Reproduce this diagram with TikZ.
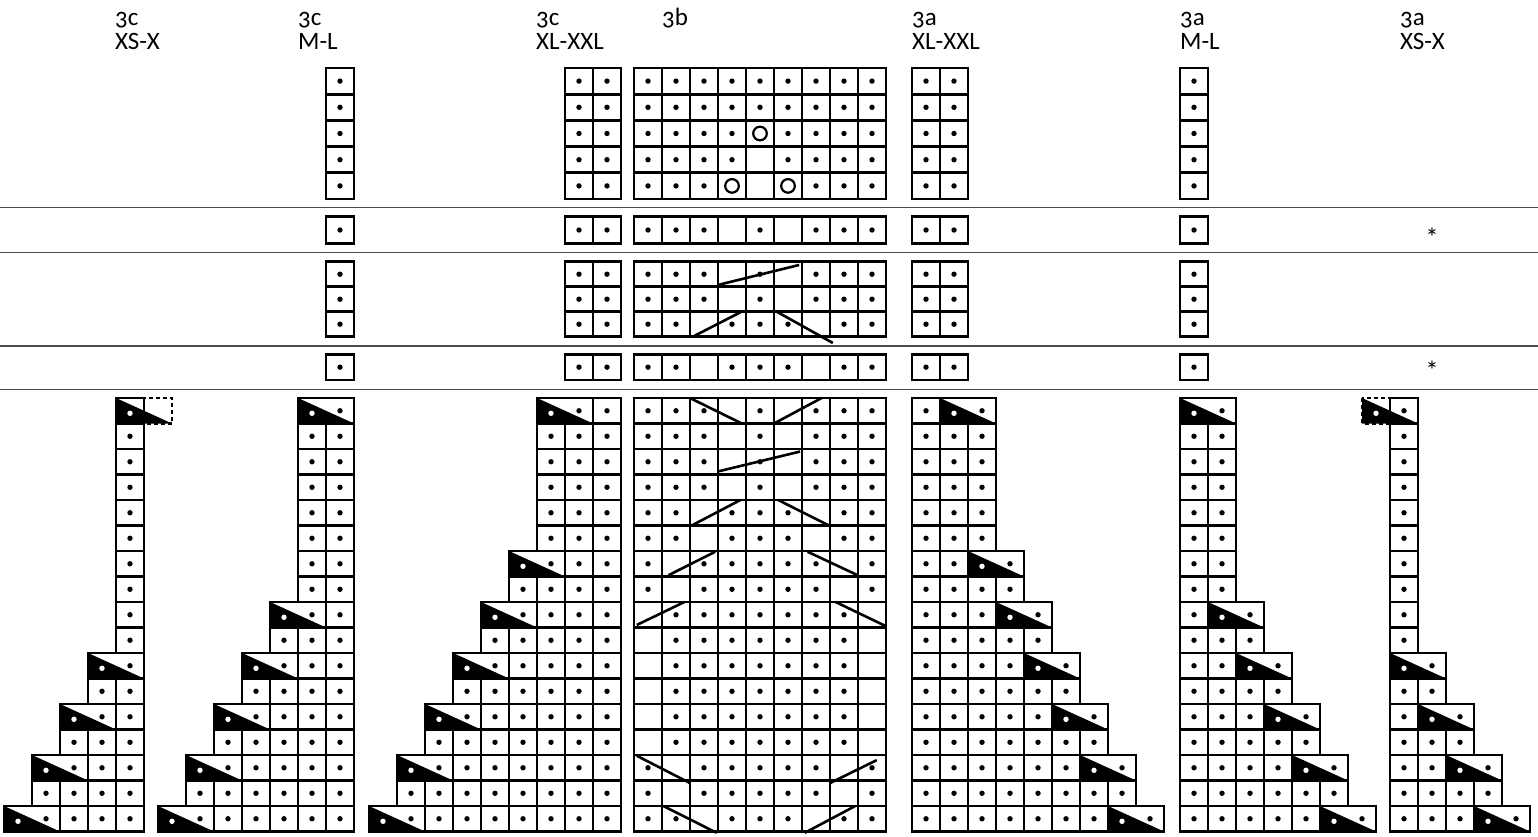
\documentclass[tikz,border=0pt]{standalone}
\usepackage{fontspec}
\setmainfont{Carlito}[Numbers=OldStyle]

\tikzset{
  cellbox/.style={draw=black,line width=2.8pt},
  dashbox/.style={draw=black,line width=2.2pt,dash pattern=on 4pt off 3pt},
  cableline/.style={draw=black,line width=2.6pt},
  sepline/.style={draw=black!70,line width=1.4pt},
  chartlabel/.style={anchor=base west,inner sep=0pt,font=\fontsize{25}{30}\selectfont},
  starmark/.style={inner sep=0pt,font=\fontsize{26}{26}\selectfont},
}

% one stitch with a dot, one empty stitch, and the two-stitch decrease
\newcommand{\pcell}[2]{\draw[cellbox] (#1,#2) rectangle ++(1,1);
  \fill (#1+0.5,#2+0.5) circle (2.7pt);}
\newcommand{\ecell}[2]{\draw[cellbox] (#1,#2) rectangle ++(1,1);}
\newcommand{\dcell}[2]{\fill (#1,#2) -- (#1,#2+1) -- (#1+2,#2+1) -- cycle;
  \draw[cellbox] (#1,#2) rectangle ++(2,1);
  \fill[white] (#1+0.5,#2+0.6) circle (2.7pt);
  \fill (#1+1.5,#2+0.5) circle (2.7pt);}

% 3c: steps to the left; #1 x, #2 last column, #3 narrowest left column, #4 first row
\newcommand{\leftchart}[4]{%
  \begin{scope}[shift={(#1,398)},x=28pt,y=-25.5pt]
    \foreach \r in {#4,...,16}{
      \pgfmathtruncatemacro{\lc}{min(div(17-\r,2),#3)}
      \pgfmathtruncatemacro{\istri}{(\r==0)||((mod(\r,2)==0)&&(div(17-\r,2)<#3))}
      \foreach \c in {0,...,#2}{
        \pgfmathtruncatemacro{\kind}{(\c<\lc) ? 0 : (((\istri==1)&&(\c==\lc)) ? 2 : (((\istri==1)&&(\c==\lc+1)) ? 0 : 1))}
        \ifcase\kind\relax\or\pcell{\c}{\r}\or\dcell{\c}{\r}\fi
      }
    }
  \end{scope}}

% 3a: steps to the right; #1 x, #2 last column, #3 narrowest right column, #4 first row
\newcommand{\rightchart}[4]{%
  \begin{scope}[shift={(#1,398)},x=28pt,y=-25.5pt]
    \foreach \r in {#4,...,16}{
      \pgfmathtruncatemacro{\rc}{max(#2-div(17-\r,2),#3)}
      \pgfmathtruncatemacro{\istri}{(\r==0)||((mod(\r,2)==0)&&(#2-div(17-\r,2)>#3))}
      \foreach \c in {0,...,#2}{
        \pgfmathtruncatemacro{\kind}{(\c>\rc) ? 0 : (((\istri==1)&&(\c==\rc-1)) ? 2 : (((\istri==1)&&(\c==\rc)) ? 0 : 1))}
        \ifcase\kind\relax\or\pcell{\c}{\r}\or\dcell{\c}{\r}\fi
      }
    }
  \end{scope}}

% 3b: #1 y, #2 row height, #3 rows r/empty/empty/empty, #4 extra drawing
\newcommand{\cablerows}[4]{%
  \begin{scope}[shift={(634,#1)},x=28pt,y=-#2pt]
    \foreach \r/\ea/\eb/\ec in {#3}{
      \foreach \c in {0,...,8}{
        \pgfmathtruncatemacro{\kind}{(\c==\ea)||(\c==\eb)||(\c==\ec)}
        \ifnum\kind=1 \ecell{\c}{\r}\else\pcell{\c}{\r}\fi
      }
    }
    #4
  \end{scope}}

% narrow columns of the side charts in the upper rows
\newcommand{\sidecols}[3]{%
  \foreach \sx in {326,565,593,912,940,1180}{
    \begin{scope}[shift={(\sx,#1)},x=28pt,y=-#2pt]
      \foreach \r in {0,...,#3}{\pcell{0}{\r}}
    \end{scope}}}

\begin{document}
\begin{tikzpicture}[x=1pt,y=-1pt]
  \useasboundingbox (0,0) rectangle (1538,836);

  % titles
  \node[chartlabel] (t3cxs) at (115,25) {3c};
  \node[chartlabel] (s3cxs) at (115,49) {XS-X};
  \node[chartlabel] (t3cml) at (298,25) {3c};
  \node[chartlabel] (s3cml) at (298,49) {M-L};
  \node[chartlabel] (t3cxl) at (536,25) {3c};
  \node[chartlabel] (s3cxl) at (536,49) {XL-XXL};
  \node[chartlabel] (t3b) at (662,25) {3b};
  \node[chartlabel] (t3axl) at (912,25) {3a};
  \node[chartlabel] (s3axl) at (912,49) {XL-XXL};
  \node[chartlabel] (t3aml) at (1180,25) {3a};
  \node[chartlabel] (s3aml) at (1180,49) {M-L};
  \node[chartlabel] (t3axs) at (1400,25) {3a};
  \node[chartlabel] (s3axs) at (1400,49) {XS-X};

  % separators
  \foreach \sy in {207.5,252.5,346,389.5}
    \draw[sepline] (0,\sy) -- (1538,\sy);

  % upper rows
  \cablerows{68}{26.2}{0/9/9/9,1/9/9/9,2/4/9/9,3/4/9/9,4/3/4/5}{
    \draw[line width=2.2pt] (4.5,2.5) circle (6.8pt) (3.5,4.5) circle (6.8pt)
      (5.5,4.5) circle (6.8pt);}
  \sidecols{68}{26.2}{4}
  \cablerows{216.7}{26.6}{0/3/5/9}{}
  \sidecols{216.7}{26.6}{0}
  \cablerows{261.7}{25}{0/3/5/9,1/3/5/9,2/2/6/9}{
    \draw[cableline] (3,0.93) -- (5.9,0.13);
    \draw[cableline] (2.1,3) -- (3.84,2);
    \draw[cableline] (5.1,2) -- (7.1,3.25);}
  \sidecols{261.7}{25}{2}
  \cablerows{354.3}{25.7}{0/2/6/9}{}
  \sidecols{354.3}{25.7}{0}
  \node[starmark] (star1) at (1432,237) {*};
  \node[starmark] (star2) at (1432,370) {*};

  % lower rows
  \leftchart{4}{4}{4}{1}
  \leftchart{158}{6}{5}{0}
  \leftchart{369}{8}{6}{0}
  \rightchart{912}{8}{2}{0}
  \rightchart{1180}{6}{1}{0}
  \rightchart{1390}{4}{0}{1}
  \cablerows{398}{25.5}{0/3/5/9,1/3/5/9,2/3/5/9,3/3/5/9,4/2/6/9,5/2/6/9,
    6/1/7/9,7/1/7/9,8/0/8/9,9/0/8/9,10/0/8/9,11/0/8/9,12/0/8/9,13/0/8/9,
    14/1/7/9,15/1/7/9,16/2/6/9}{
    \draw[cableline] (2,0) -- (3.85,1);
    \draw[cableline] (5,1) -- (6.7,0);
    \draw[cableline] (3,2.88) -- (5.93,2.1);
    \draw[cableline] (2.06,5) -- (3.8,4);
    \draw[cableline] (5.15,4) -- (6.96,5);
    \draw[cableline] (1.23,6.95) -- (2.9,6.03);
    \draw[cableline] (6.2,6.03) -- (7.95,6.93);
    \draw[cableline] (0.1,8.9) -- (1.8,8);
    \draw[cableline] (7.2,8) -- (9,8.95);
    \draw[cableline] (0.1,14.03) -- (2,15.1);
    \draw[cableline] (7,15.1) -- (8.67,14.2);
    \draw[cableline] (1.05,16) -- (2.95,17.05);
    \draw[cableline] (6.1,17.05) -- (7.9,16);}

  % top decreases that reach outside the chart
  \begin{scope}[shift={(4,398)},x=28pt,y=-25.5pt]
    \fill (4,0) -- (4,1) -- (6,1) -- cycle;
    \draw[cellbox] (4,0) rectangle ++(1,1);
    \draw[dashbox] (5,0) rectangle ++(1,1);
    \fill[white] (4.5,0.6) circle (2.7pt);
  \end{scope}
  \begin{scope}[shift={(1390,398)},x=28pt,y=-25.5pt]
    \fill (-1,0) -- (-1,1) -- (1,1) -- cycle;
    \draw[dashbox] (-1,0) rectangle ++(1,1);
    \pcell{0}{0}
    \fill[white] (-0.5,0.6) circle (2.7pt);
  \end{scope}
\end{tikzpicture}
\end{document}
